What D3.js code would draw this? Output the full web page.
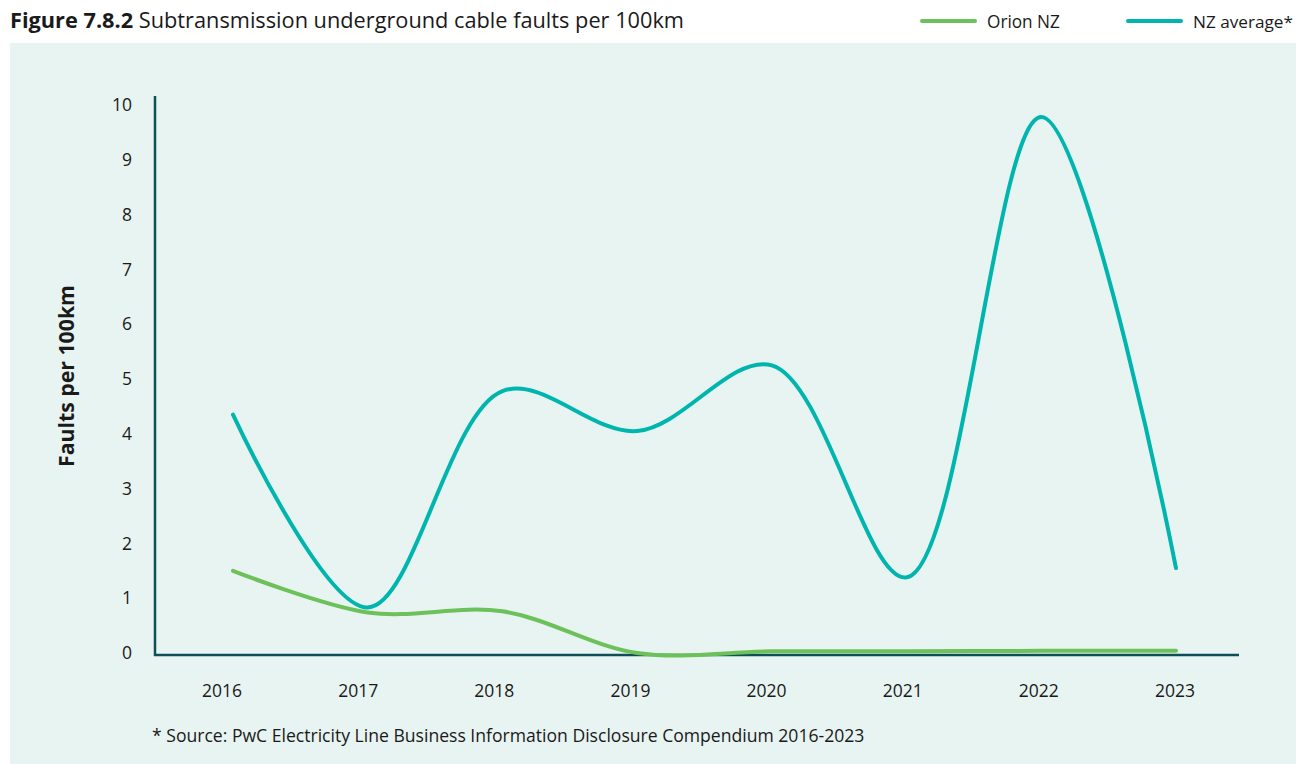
<!DOCTYPE html>
<html><head><meta charset="utf-8">
<script src="https://cdn.jsdelivr.net/npm/d3@7"></script>
<style>body{margin:0;background:#fff;} svg{display:block;font-family:"Open Sans",sans-serif;}</style>
</head><body>
<script>
const years = ["2016","2017","2018","2019","2020","2021","2022","2023"];
const orionNZ = [1.5, 0.74, 0.76, 0.0, 0.03, 0.03, 0.04, 0.04];
const nzAverage = [4.35, 0.83, 4.78, 4.05, 5.25, 1.38, 9.78, 1.55];
const yTicks = [0,1,2,3,4,5,6,7,8,9,10];
const seriesNames = ["Orion NZ","NZ average*"];
const colors = ["#6cc15a","#00b5ae"];

const W=1296,H=764;
const svg=d3.select("body").append("svg").attr("width",W).attr("height",H);
svg.append("rect").attr("x",10).attr("y",43).attr("width",W-10).attr("height",H-43).attr("fill","#e8f4f1");

function fit(t, target){
  const w=t.node().getComputedTextLength();
  const fs=parseFloat(t.attr("font-size"));
  t.attr("font-size",(fs*target/w).toFixed(2));
}

const title=svg.append("text").attr("x",10).attr("y",28).attr("font-size",18).attr("fill","#1a1a1a");
title.append("tspan").attr("font-weight","bold").text("Figure 7.8.2");
title.append("tspan").text(" Subtransmission underground cable faults per 100km");
fit(title,674);

// legend
const legX=[922,1128], legW=[73,100];
seriesNames.forEach((n,i)=>{
  svg.append("line").attr("x1",legX[i]).attr("x2",legX[i]+53).attr("y1",21).attr("y2",21)
    .attr("stroke",colors[i]).attr("stroke-width",4).attr("stroke-linecap","round");
  const t=svg.append("text").attr("x",legX[i]+65).attr("y",28).attr("font-size",16).attr("fill","#1a1a1a").text(n);
  fit(t,legW[i]);
});

const xl=d3.scaleBand().domain(years).range([154,1243]).padding(0);
const x=d3.scalePoint().domain(years).range([233,1176]);
const y=d3.scaleLinear().domain([0,10]).range([653,105]);

// y tick labels
svg.append("g").selectAll("text").data(yTicks).join("text")
  .attr("x",132).attr("y",d=>y(d)).attr("dy","0.35em").attr("text-anchor","end")
  .attr("font-size",17.5).attr("fill","#1a1a1a").text(d=>d);
// x tick labels
svg.append("g").selectAll("text").data(years).join("text")
  .attr("x",d=>xl(d)+xl.bandwidth()/2).attr("y",691).attr("dy","0.35em").attr("text-anchor","middle")
  .attr("font-size",17.5).attr("fill","#1a1a1a").text(d=>d);

// axes lines
svg.append("line").attr("x1",155).attr("x2",155).attr("y1",96).attr("y2",656).attr("stroke","#0c4f57").attr("stroke-width",2.5);
svg.append("line").attr("x1",154).attr("x2",1239).attr("y1",655).attr("y2",655).attr("stroke","#0c4f57").attr("stroke-width",2.5);

const yl=svg.append("text").attr("transform","translate(74,376) rotate(-90)").attr("text-anchor","middle")
  .attr("font-size",18).attr("font-weight","bold").attr("fill","#1a1a1a").text("Faults per 100km");
fit(yl,182);

const line=d3.line().x(d=>x(d[0])).y(d=>y(d[1])).curve(d3.curveCatmullRom.alpha(0.5));
[orionNZ,nzAverage].forEach((s,i)=>{
  svg.append("path").attr("d",line(s.map((v,j)=>[years[j],v]))).attr("fill","none").attr("stroke",colors[i]).attr("stroke-width",4).attr("stroke-linecap","round");
});

const fn=svg.append("text").attr("x",152).attr("y",736).attr("dy","0.35em").attr("font-size",15.5).attr("fill","#1a1a1a")
  .text("* Source: PwC Electricity Line Business Information Disclosure Compendium 2016-2023");
fit(fn,713);
</script>
</body></html>
